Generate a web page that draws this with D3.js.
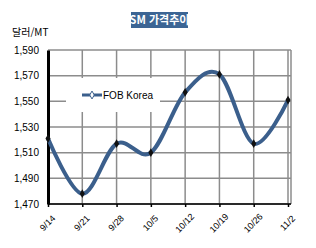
<!DOCTYPE html>
<html lang="ko">
<head>
<meta charset="UTF-8"/>
<script src="https://d3js.org/d3.v7.min.js"></script>
<style>
  body { margin: 0; background: #fff; }
  text { font-family: Arial, "Liberation Sans", sans-serif; }
</style>
</head>
<body>
<div id="chart"></div>
<script>
// data
const dates = ["9/14", "9/21", "9/28", "10/5", "10/12", "10/19", "10/26", "11/2"];
const fobKorea = [1521, 1478, 1517, 1510, 1557, 1571, 1517, 1551];
const yTicks = [1470, 1490, 1510, 1530, 1550, 1570, 1590];
const seriesName = "FOB Korea";
const title = "SM 가격추이";
const unit = "달러/MT";

const W = 316, H = 248;
const margin = {top: 50, right: 25, bottom: 44, left: 48};
const width = W - margin.left - margin.right;
const height = H - margin.top - margin.bottom;

const svg = d3.select("#chart").append("svg")
    .attr("width", W).attr("height", H);

// title box
const tg = svg.append("g");
tg.append("rect").attr("x", 131).attr("y", 12).attr("width", 57).attr("height", 16)
    .attr("fill", "#3c6594");
tg.append("text").attr("x", 159.5).attr("y", 24).attr("text-anchor", "middle")
    .attr("fill", "#fff").style("font-size", "11px").style("font-weight", "bold")
    .style("font-family", "'Noto Sans CJK KR', sans-serif")
    .text(title);

svg.append("text").attr("x", 12).attr("y", 36)
    .style("font-size", "10px")
    .style("font-family", "'Noto Sans CJK KR', sans-serif")
    .text(unit);

const g = svg.append("g").attr("transform", "translate(" + margin.left + "," + margin.top + ")");

const x = d3.scalePoint().domain(dates).range([0, width - 3]);
const y = d3.scaleLinear().domain([1470, 1590]).range([height, 0]);

// horizontal grid
g.append("g").selectAll("line").data(yTicks).join("line")
    .attr("x1", 0).attr("x2", width)
    .attr("y1", d => y(d)).attr("y2", d => y(d))
    .attr("stroke", "#8c8c8c").attr("stroke-width", 1.5);

// vertical grid
g.append("g").selectAll("line").data(dates.slice(1)).join("line")
    .attr("x1", d => x(d)).attr("x2", d => x(d))
    .attr("y1", 0).attr("y2", height)
    .attr("stroke", "#8c8c8c").attr("stroke-width", 1.5);
g.append("line").attr("x1", width).attr("x2", width).attr("y1", 0).attr("y2", height)
    .attr("stroke", "#8c8c8c").attr("stroke-width", 1.5);

// y axis
const yAxis = g.append("g")
    .call(d3.axisLeft(y).tickValues(yTicks).tickSize(0).tickPadding(9).tickFormat(d3.format(",")));
yAxis.select(".domain").attr("stroke", "#000").attr("stroke-width", 3);
yAxis.selectAll("text").style("font-size", "10px").attr("fill", "#000");

// x axis
const xAxis = g.append("g").attr("transform", "translate(0," + height + ")")
    .call(d3.axisBottom(x).tickSize(3).tickSizeOuter(0));
xAxis.select(".domain").attr("stroke", "#000").attr("stroke-width", 1.5)
    .attr("d", "M0,0H" + width);
xAxis.selectAll(".tick line").attr("stroke", "#000").attr("stroke-width", 1.5);
xAxis.selectAll("text")
    .style("font-size", "9px").attr("fill", "#000")
    .attr("text-anchor", "middle")
    .attr("x", 0).attr("y", 0).attr("dy", "0.35em")
    .attr("transform", "translate(-1,19) rotate(-45)");

// legend box
const lg = g.append("g").attr("transform", "translate(18,28)");
lg.append("rect").attr("x", 0).attr("y", 0).attr("width", 94).attr("height", 34).attr("fill", "#fff");
lg.append("line").attr("x1", 16).attr("x2", 36).attr("y1", 17).attr("y2", 17)
    .attr("stroke", "#3b5f8c").attr("stroke-width", 3);
lg.append("path").attr("d", d3.symbol(d3.symbolDiamond, 18)())
    .attr("transform", "translate(26,17)").attr("fill", "#fff").attr("stroke", "#3b5f8c").attr("stroke-width", 1);
lg.append("text").attr("x", 37).attr("y", 21).style("font-size", "10px").text(seriesName);

// line
const line = d3.line()
    .x((d, i) => x(dates[i]))
    .y(d => y(d))
    .curve(d3.curveCardinal);
g.append("path").datum(fobKorea)
    .attr("fill", "none").attr("stroke", "#3b5f8c").attr("stroke-width", 4)
    .attr("stroke-linecap", "round")
    .attr("d", line);

// markers
g.append("g").selectAll("path").data(fobKorea).join("path")
    .attr("d", d3.symbol(d3.symbolDiamond, 22)())
    .attr("transform", (d, i) => "translate(" + x(dates[i]) + "," + y(d) + ")")
    .attr("fill", "#111");
</script>
</body>
</html>
